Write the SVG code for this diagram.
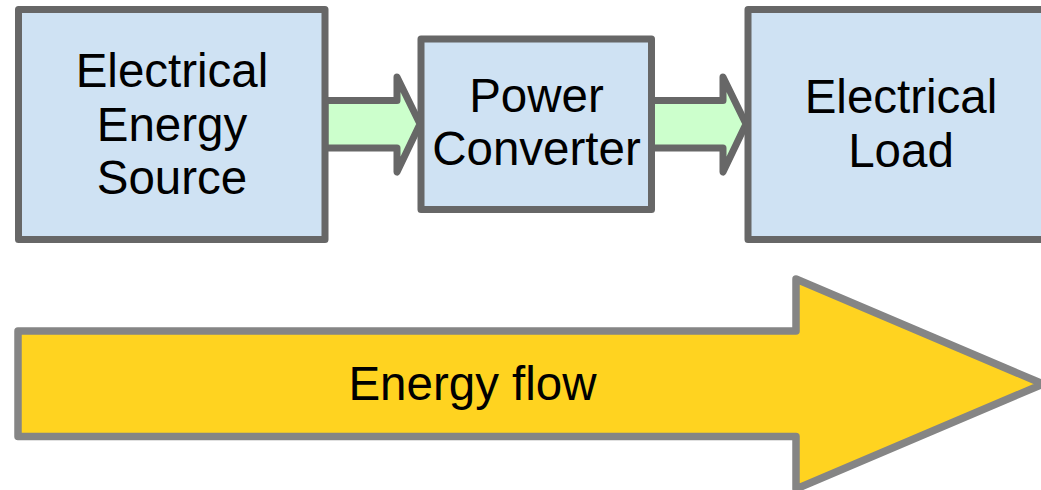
<svg xmlns="http://www.w3.org/2000/svg" width="1041" height="490" viewBox="0 0 1041 490">
<style>
.box{fill:#cfe2f3;stroke:#676767;stroke-width:7;stroke-linejoin:round}
.conn{fill:#ccffcc;stroke:#676767;stroke-width:7;stroke-linejoin:round}
.big{fill:#ffd320;stroke:#858585;stroke-width:7.5;stroke-linejoin:round}
text{font-family:"Liberation Sans",Arial,sans-serif;font-size:47.5px;fill:#000;text-anchor:middle}
</style>
<rect width="1041" height="490" fill="#ffffff"/>
<g id="connectors">
<polygon class="conn" points="325,100.5 397,100.5 397,77 420,124 397,172 397,148 325,148"/>
<polygon class="conn" points="651.5,100.5 723,100.5 723,77 746,124 723,172 723,148 651.5,148"/>
</g>
<g id="source">
<rect class="box" x="18.5" y="9.5" width="306.5" height="230"/>
<text x="172" y="87">Electrical</text>
<text x="172" y="141">Energy</text>
<text x="172" y="194">Source</text>
</g>
<g id="converter">
<rect class="box" x="421" y="39" width="230.5" height="170.5"/>
<text x="536.5" y="112">Power</text>
<text x="536.5" y="165">Converter</text>
</g>
<g id="load">
<rect class="box" x="748" y="9.5" width="306" height="230"/>
<text x="901" y="113">Electrical</text>
<text x="901" y="167">Load</text>
</g>
<g id="energy-flow">
<polygon class="big" points="18,331 796,331 796,279 1043,384 796,489 796,436.5 18,436.5"/>
<text x="472.5" y="400">Energy flow</text>
</g>
</svg>
